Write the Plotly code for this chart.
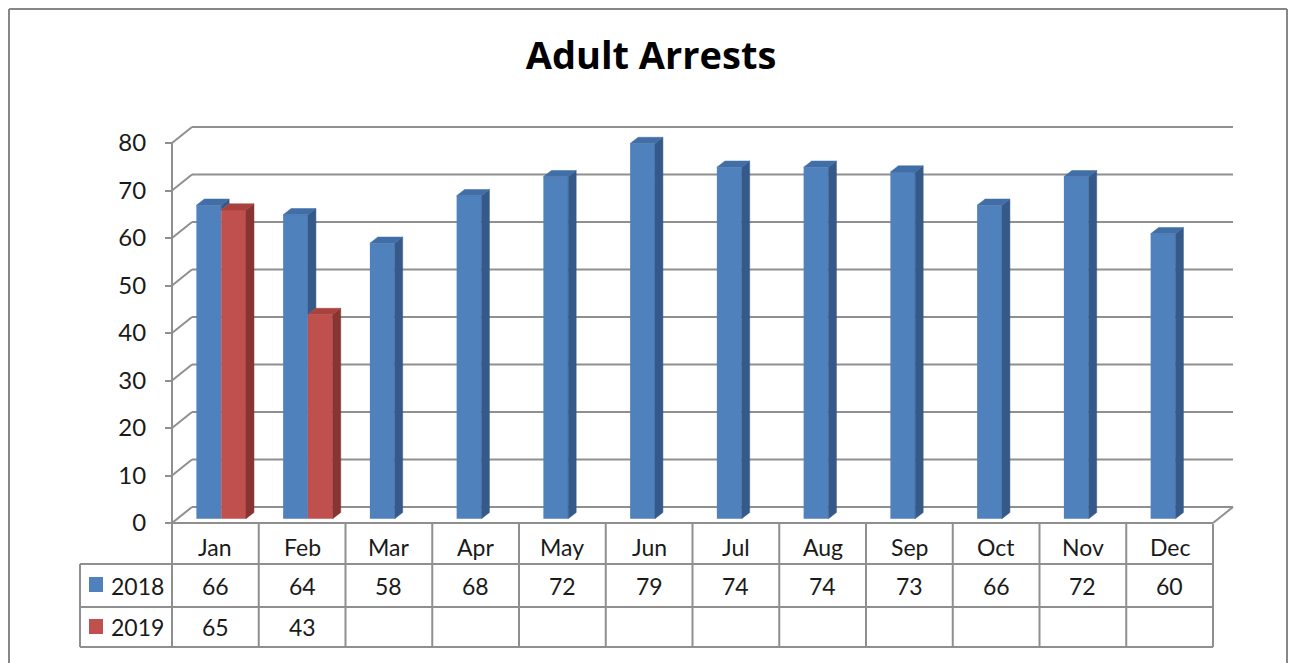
import plotly.graph_objects as go

# ---------------- data ----------------
months = ["Jan", "Feb", "Mar", "Apr", "May", "Jun", "Jul", "Aug", "Sep", "Oct", "Nov", "Dec"]
series_names = ["2018", "2019"]
values_2018 = [66, 64, 58, 68, 72, 79, 74, 74, 73, 66, 72, 60]
values_2019 = [65, 43, None, None, None, None, None, None, None, None, None, None]
y_ticks = [0, 10, 20, 30, 40, 50, 60, 70, 80]
title_text = "Adult Arrests"

# ---------------- styling / geometry ----------------
W, H = 1296, 663
PAGE_OFF = 8          # default body margin of the html page
FONT = "Lato"
TXT = "#1a1a1a"
GRID = "#8f8f8f"
front_colors = ["#4F81BD", "#C0504D"]
side_colors = ["#355A8A", "#873532"]
top_colors = ["#416EA6", "#A8423F"]

CAT_PX = 86.75       # pixel width of one category
UNIT_PX = 4.75       # pixels per value unit
X_LEFT_PX = 172      # screen x of the front-left corner of the floor
Y_ZERO_PX = 523      # screen y of the value 0 on the front edge
n = len(months)

xl_fig = X_LEFT_PX - PAGE_OFF
yz_fig = Y_ZERO_PX - PAGE_OFF
x_range = [-0.5 - xl_fig / CAT_PX, -0.5 + (W - xl_fig) / CAT_PX]
y_range = [-(H - yz_fig) / UNIT_PX, yz_fig / UNIT_PX]

WALL_DX = 20 / CAT_PX
WALL_DY = 16 / UNIT_PX
BAR_W = 24.8 / CAT_PX
BAR_OFF = -19 / CAT_PX
BAR_BASE = 0.9
BAR_DX = 8 / CAT_PX
BAR_DY = 6.2 / UNIT_PX


def fx(p):
    return (p - PAGE_OFF) / W


def fy(p):
    return 1 - (p - PAGE_OFF) / H


series = [values_2018, values_2019]
fig = go.Figure()

# front faces of the columns
for s, vals in enumerate(series):
    fig.add_trace(go.Bar(
        x=list(range(n)), y=vals, base=BAR_BASE,
        offset=BAR_OFF + s * BAR_W, width=BAR_W,
        marker=dict(color=front_colors[s], line=dict(width=0)),
        name=series_names[s], showlegend=False,
    ))

# side and top faces (3-D effect)
for s, vals in enumerate(series):
    sx, sy, tx, ty = [], [], [], []
    for i, v in enumerate(vals):
        if v is None:
            continue
        xl = i + BAR_OFF + s * BAR_W
        xr = xl + BAR_W
        yt = BAR_BASE + v
        yb = BAR_BASE
        if s == 0 and values_2019[i] is not None:
            yb = max(yb, BAR_BASE + values_2019[i])
        if yt > yb:
            sx += [xr, xr + BAR_DX, xr + BAR_DX, xr, xr, None]
            sy += [yb, yb + BAR_DY, yt + BAR_DY, yt, yb, None]
        tx += [xl, xl + BAR_DX, xr + BAR_DX, xr, xl, None]
        ty += [yt, yt + BAR_DY, yt + BAR_DY, yt, yt, None]
    fig.add_trace(go.Scatter(x=sx, y=sy, mode="lines", fill="toself",
                             fillcolor=side_colors[s],
                             line=dict(width=0.5, color=side_colors[s]),
                             showlegend=False, hoverinfo="skip"))
    fig.add_trace(go.Scatter(x=tx, y=ty, mode="lines", fill="toself",
                             fillcolor=top_colors[s],
                             line=dict(width=0.5, color=top_colors[s]),
                             showlegend=False, hoverinfo="skip"))

shapes = []
line_style = dict(color=GRID, width=2)
x_lo, x_hi = -0.5, n - 0.5
# back wall gridlines + side wall diagonals
for v in y_ticks:
    shapes.append(dict(type="line", xref="x", yref="y", layer="below",
                       x0=x_lo + WALL_DX, x1=x_hi + WALL_DX,
                       y0=v + WALL_DY, y1=v + WALL_DY, line=line_style))
    shapes.append(dict(type="line", xref="x", yref="y", layer="below",
                       x0=x_lo, x1=x_lo + WALL_DX,
                       y0=v, y1=v + WALL_DY, line=line_style))
# floor right diagonal
shapes.append(dict(type="line", xref="x", yref="y", layer="below",
                   x0=x_hi, x1=x_hi + WALL_DX, y0=0, y1=WALL_DY, line=line_style))
# front vertical axis line
shapes.append(dict(type="line", xref="x", yref="y", layer="below",
                   x0=x_lo, x1=x_lo, y0=0, y1=y_ticks[-1], line=line_style))
# table: top edge (floor front edge)
shapes.append(dict(type="line", xref="x", yref="y", x0=x_lo, x1=x_hi,
                   y0=0, y1=0, line=line_style))

TABLE_TOP = 524
ROW_LINES = [564, 607, 647]
LEG_LEFT = 80
for yl in ROW_LINES:
    shapes.append(dict(type="line", xref="paper", yref="paper",
                       x0=fx(LEG_LEFT), x1=fx(X_LEFT_PX + n * CAT_PX),
                       y0=fy(yl), y1=fy(yl), line=line_style))
shapes.append(dict(type="line", xref="paper", yref="paper",
                   x0=fx(LEG_LEFT), x1=fx(LEG_LEFT),
                   y0=fy(ROW_LINES[0]), y1=fy(ROW_LINES[-1]), line=line_style))
for k in range(n + 1):
    shapes.append(dict(type="line", xref="x", yref="paper",
                       x0=k - 0.5, x1=k - 0.5,
                       y0=fy(TABLE_TOP), y1=fy(ROW_LINES[-1]), line=line_style))

# legend keys in the table
key_rows = [(577, 592), (619, 634)]
for s, (a, b) in enumerate(key_rows):
    shapes.append(dict(type="rect", xref="paper", yref="paper",
                       x0=fx(89), x1=fx(103), y0=fy(b), y1=fy(a),
                       fillcolor=front_colors[s], line=dict(width=0)))

# outer chart border (left, top, right edges)
border = dict(color="#878787", width=2)
B_L, B_T, B_R, B_B = 9, 9, 1287, 700
shapes.append(dict(type="line", xref="paper", yref="paper",
                   x0=fx(B_L), x1=fx(B_L), y0=fy(B_T), y1=fy(B_B), line=border))
shapes.append(dict(type="line", xref="paper", yref="paper",
                   x0=fx(B_L), x1=fx(B_R), y0=fy(B_T), y1=fy(B_T), line=border))
shapes.append(dict(type="line", xref="paper", yref="paper",
                   x0=fx(B_R), x1=fx(B_R), y0=fy(B_T), y1=fy(B_B), line=border))

annotations = []
tfont = dict(family=FONT, size=23, color=TXT)
row_centers = [547, 586, 627]
for i, m in enumerate(months):
    annotations.append(dict(x=i, y=fy(row_centers[0]), xref="x", yref="paper",
                            text=m, showarrow=False, font=tfont,
                            xanchor="center", yanchor="middle"))
for s, vals in enumerate(series):
    for i, v in enumerate(vals):
        if v is None:
            continue
        annotations.append(dict(x=i, y=fy(row_centers[s + 1]), xref="x", yref="paper",
                                text=str(v), showarrow=False, font=tfont,
                                xanchor="center", yanchor="middle"))
    annotations.append(dict(x=fx(137), y=fy(row_centers[s + 1]), xref="paper", yref="paper",
                            text=series_names[s], showarrow=False, font=tfont,
                            xanchor="center", yanchor="middle"))

fig.update_layout(
    width=W, height=H,
    margin=dict(l=0, r=0, t=0, b=0),
    paper_bgcolor="white", plot_bgcolor="white",
    showlegend=False,
    barmode="overlay",
    title=dict(text="<b>" + title_text + "</b>", x=fx(651), xanchor="center",
               y=fy(56), yanchor="middle",
               font=dict(family="Open Sans", size=38, color="#000000")),
    xaxis=dict(range=x_range, visible=False, fixedrange=True, automargin=False),
    yaxis=dict(range=y_range, tickvals=y_ticks, anchor="free", position=fx(X_LEFT_PX),
               ticks="outside", ticklen=7, tickwidth=2, tickcolor=GRID,
               ticklabelstandoff=14,
               showgrid=False, zeroline=False, showline=False,
               tickfont=dict(family=FONT, size=24, color=TXT),
               fixedrange=True, automargin=False),
    shapes=shapes,
    annotations=annotations,
)

fig.write_html("out.html")
